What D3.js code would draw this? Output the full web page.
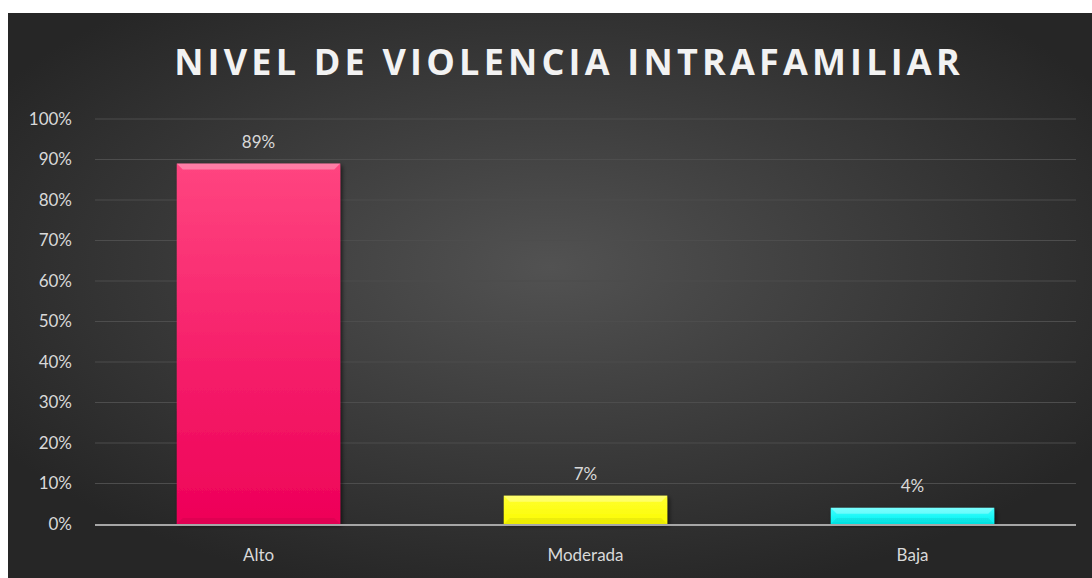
<!DOCTYPE html>
<html>
<head>
<meta charset="utf-8">
<script src="https://cdn.jsdelivr.net/npm/d3@7"></script>
<style>
  body { margin: 0; background: #fff; }
  svg { display: block; }
</style>
</head>
<body>
<div class="chart"></div>
<script>
const categories = ['Alto', 'Moderada', 'Baja'];
const values = [0.89, 0.07, 0.04];
const valueLabels = ['89%', '7%', '4%'];
const tickValues = [0, 0.1, 0.2, 0.3, 0.4, 0.5, 0.6, 0.7, 0.8, 0.9, 1.0];
const barColors = [['#ff4580', '#ee0058'], ['#ffff30', '#fbfb00'], ['#40ffff', '#00f0f0']];

const width = 1092, height = 578;
const svg = d3.select('.chart').append('svg')
  .attr('width', width).attr('height', height);

const defs = svg.append('defs');
const bg = defs.append('radialGradient').attr('id', 'bg')
  .attr('cx', '50%').attr('cy', '45%').attr('r', '60%');
bg.append('stop').attr('offset', '0%').attr('stop-color', '#525252');
bg.append('stop').attr('offset', '100%').attr('stop-color', '#262626');

barColors.forEach((c, i) => {
  const g = defs.append('linearGradient').attr('id', 'bar' + i)
    .attr('x1', 0).attr('y1', 0).attr('x2', 0).attr('y2', 1);
  g.append('stop').attr('offset', '0%').attr('stop-color', c[0]);
  g.append('stop').attr('offset', '100%').attr('stop-color', c[1]);
});
const sh = defs.append('filter').attr('id', 'shadow')
  .attr('x', '-10%').attr('y', '-10%').attr('width', '130%').attr('height', '130%');
sh.append('feDropShadow').attr('dx', 2).attr('dy', 2).attr('stdDeviation', 2)
  .attr('flood-color', '#000').attr('flood-opacity', 0.6);

// background
svg.append('rect').attr('x', 8).attr('y', 13)
  .attr('width', width - 8).attr('height', height - 13)
  .attr('fill', 'url(#bg)');

// title
svg.append('text')
  .attr('x', 569).attr('y', 75)
  .attr('text-anchor', 'middle')
  .attr('font-family', 'Open Sans, sans-serif')
  .attr('font-weight', 'bold')
  .attr('font-size', 36)
  .attr('letter-spacing', 4.2)
  .attr('fill', '#f2f2f2')
  .text('NIVEL DE VIOLENCIA INTRAFAMILIAR');

const margin = {left: 95, right: 16, top: 119, bottom: 54};
const x = d3.scaleBand().domain(categories)
  .range([margin.left, width - margin.right]).paddingInner(0.5).paddingOuter(0.25);
const y = d3.scaleLinear().domain([0, 1]).range([height - margin.bottom, margin.top]);

// gridlines
svg.append('g').selectAll('line').data(tickValues.slice(1)).enter().append('line')
  .attr('x1', margin.left).attr('x2', width - margin.right)
  .attr('y1', d => y(d)).attr('y2', d => y(d))
  .attr('stroke', '#4d4d4d').attr('stroke-width', 1.2);

// y axis labels
const yAxis = d3.axisLeft(y).tickValues(tickValues).tickFormat(d3.format('.0%')).tickSize(0).tickPadding(23);
const ya = svg.append('g').attr('transform', `translate(${margin.left},0)`).call(yAxis);
ya.select('.domain').remove();
ya.selectAll('text').attr('font-family', 'Lato, sans-serif').attr('font-size', 17)
  .attr('fill', '#d9d9d9');

// bars
const bars = svg.append('g').selectAll('g.bar').data(categories).enter().append('g').attr('class', 'bar');
bars.append('rect')
  .attr('x', d => x(d))
  .attr('y', (d, i) => y(values[i]))
  .attr('width', x.bandwidth())
  .attr('height', (d, i) => y(0) - y(values[i]))
  .attr('fill', (d, i) => `url(#bar${i})`)
  .attr('filter', 'url(#shadow)');
// bevel highlight on top and shade at bottom
bars.append('path')
  .attr('d', (d, i) => {
    const x0 = x(d), x1 = x(d) + x.bandwidth(), y0 = y(values[i]), y1 = y(0);
    const b = Math.min(6, (y1 - y0) / 2);
    return `M${x0},${y0}L${x1},${y0}L${x1 - b},${y0 + b}L${x0 + b},${y0 + b}Z`;
  })
  .attr('fill', '#fff').attr('opacity', 0.3);
bars.append('path')
  .attr('d', (d, i) => {
    const x0 = x(d), x1 = x(d) + x.bandwidth(), y0 = y(values[i]), y1 = y(0);
    const b = Math.min(6, (y1 - y0) / 2);
    return `M${x0},${y1}L${x1},${y1}L${x1 - b},${y1 - b}L${x0 + b},${y1 - b}Z`;
  })
  .attr('fill', '#000').attr('opacity', 0.06);

// value labels
svg.append('g').selectAll('text').data(categories).enter().append('text')
  .attr('x', d => x(d) + x.bandwidth() / 2)
  .attr('y', (d, i) => y(values[i]) - 16)
  .attr('text-anchor', 'middle')
  .attr('font-family', 'Lato, sans-serif').attr('font-size', 17)
  .attr('fill', '#d9d9d9')
  .text((d, i) => valueLabels[i]);

// x axis
svg.append('line')
  .attr('x1', margin.left).attr('x2', width - margin.right)
  .attr('y1', y(0) + 1).attr('y2', y(0) + 1)
  .attr('stroke', '#a6a6a6').attr('stroke-width', 2);
const xAxis = d3.axisBottom(x).tickSize(0).tickPadding(25);
const xa = svg.append('g').attr('transform', `translate(0,${y(0)})`).call(xAxis);
xa.select('.domain').remove();
xa.selectAll('text').attr('font-family', 'Lato, sans-serif').attr('font-size', 17)
  .attr('fill', '#d9d9d9');
</script>
</body>
</html>
